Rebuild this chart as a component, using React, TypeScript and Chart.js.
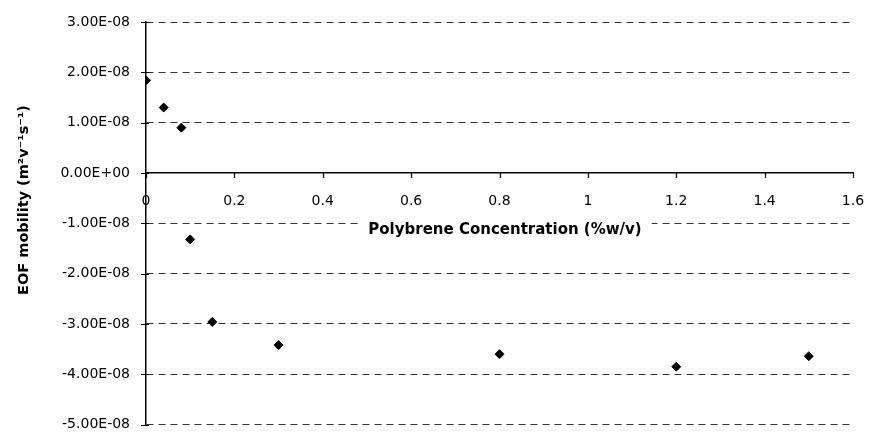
import React, { useEffect, useRef } from "react";
import { Chart, registerables } from "chart.js";

Chart.register(...registerables);

const concentrations = [0, 0.04, 0.08, 0.1, 0.15, 0.3, 0.8, 1.2, 1.5];
const mobility = [1.84e-8, 1.3e-8, 0.9e-8, -1.32e-8, -2.96e-8, -3.42e-8, -3.6e-8, -3.85e-8, -3.64e-8];
const xTitle = "Polybrene Concentration (%w/v)";
const yTitle = "EOF mobility (m²v⁻¹s⁻¹)";

const FONT = '"DejaVu Sans", "Liberation Sans", Arial, sans-serif';

function fmtExp(v: number): string {
  const s = v.toExponential(2);
  const [m, e] = s.split("e");
  const sign = e[0] === "-" ? "-" : "+";
  const n = Math.abs(parseInt(e, 10));
  return m + "E" + sign + String(n).padStart(2, "0");
}

const decorPlugin = {
  id: "decorPlugin",
  afterDraw(chart: any) {
    const ctx = chart.ctx;
    const xs = chart.scales.x;
    const ys = chart.scales.y;
    const area = chart.chartArea;
    const y0 = ys.getPixelForValue(0);
    ctx.save();
    // tick marks
    ctx.strokeStyle = "#000";
    ctx.lineWidth = 1.2;
    ctx.beginPath();
    ys.ticks.forEach((t: any) => {
      const py = Math.round(ys.getPixelForValue(t.value)) + 0.5;
      ctx.moveTo(area.left - 5, py);
      ctx.lineTo(area.left + 3, py);
    });
    xs.ticks.forEach((t: any) => {
      const px = Math.round(xs.getPixelForValue(t.value)) + 0.5;
      ctx.moveTo(px, y0);
      ctx.lineTo(px, y0 + 5);
    });
    ctx.stroke();
    // x axis title with white backing (covers the gridline behind it)
    ctx.font = `bold 15px ${FONT}`;
    const w = ctx.measureText(xTitle).width;
    ctx.fillStyle = "#fff";
    ctx.fillRect(505 - w / 2 - 10, 216, w + 20, 22);
    ctx.fillStyle = "#000";
    ctx.textAlign = "center";
    ctx.textBaseline = "alphabetic";
    ctx.fillText(xTitle, 505, 234);
    // y axis title
    ctx.translate(28, 200);
    ctx.rotate(-Math.PI / 2);
    ctx.font = `bold 14.5px ${FONT}`;
    ctx.fillText(yTitle, 0, 0);
    ctx.restore();
  },
};

export default function App() {
  const ref = useRef<HTMLCanvasElement>(null);
  useEffect(() => {
    if (!ref.current) return;
    const chart = new Chart(ref.current, {
      type: "scatter",
      data: {
        datasets: [
          {
            data: concentrations.map((x, i) => ({ x, y: mobility[i] })),
            pointStyle: "rectRot",
            pointRadius: 4.5,
            pointBackgroundColor: "#000",
            pointBorderColor: "#000",
            pointBorderWidth: 1,
            showLine: false,
          },
        ],
      },
      options: {
        animation: false,
        responsive: false,
        layout: { padding: { left: 0, top: 22, right: 17, bottom: 8 } },
        plugins: {
          legend: { display: false },
          tooltip: { enabled: false },
        },
        scales: {
          x: {
            type: "linear",
            position: { y: 0 } as any,
            min: 0,
            max: 1.6,
            ticks: {
              stepSize: 0.2,
              color: "#000",
              padding: 0,
              font: { family: FONT, size: 14 },
              callback: (v: any) => String(Number(Number(v).toFixed(1))),
            },
            grid: {
              drawOnChartArea: false,
              drawTicks: true,
              tickLength: 20,
              tickColor: "rgba(0,0,0,0)",
            },
            border: { display: true, color: "#000", width: 1.5 },
            title: { display: false },
          },
          y: {
            type: "linear",
            min: -5e-8,
            max: 3e-8,
            afterFit: (scale: any) => {
              scale.width = 146;
            },
            ticks: {
              stepSize: 1e-8,
              color: "#000",
              padding: 0,
              font: { family: FONT, size: 14 },
              callback: (v: any) => fmtExp(Number(v)),
            },
            grid: {
              drawOnChartArea: true,
              drawTicks: true,
              tickLength: 16,
              color: (ctx: any) =>
                ctx.tick && Math.abs(ctx.tick.value) < 1e-12 ? "rgba(0,0,0,0)" : "#333",
              tickColor: "rgba(0,0,0,0)",
              lineWidth: 1,
            } as any,
            border: { display: true, color: "#000", width: 1.5, dash: [7, 5] } as any,
          },
        },
      } as any,
      plugins: [decorPlugin],
    });
    return () => chart.destroy();
  }, []);
  return (
    <div style={{ position: "fixed", left: 0, top: 0, width: 870, height: 433, background: "#fff" }}>
      <canvas ref={ref} width={870} height={433} />
    </div>
  );
}
